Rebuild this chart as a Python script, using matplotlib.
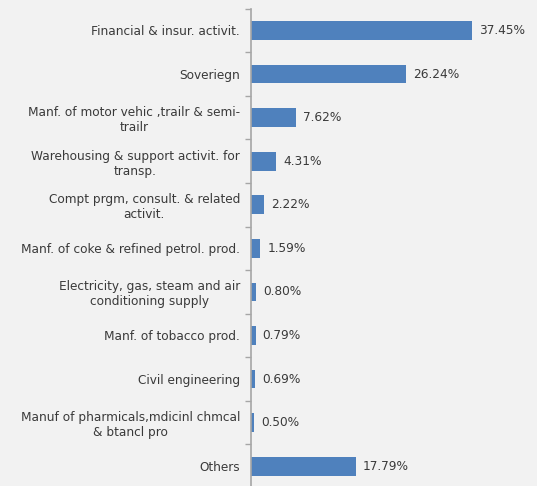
import matplotlib
matplotlib.use("Agg")
import matplotlib.pyplot as plt
import numpy as np

categories = [
    "Financial & insur. activit.",
    "Soveriegn",
    "Manf. of motor vehic ,trailr & semi-\ntrailr",
    "Warehousing & support activit. for\ntransp.",
    "Compt prgm, consult. & related\nactivit.",
    "Manf. of coke & refined petrol. prod.",
    "Electricity, gas, steam and air\nconditioning supply",
    "Manf. of tobacco prod.",
    "Civil engineering",
    "Manuf of pharmicals,mdicinl chmcal\n& btancl pro",
    "Others",
]
shares = [37.45, 26.24, 7.62, 4.31, 2.22, 1.59, 0.80, 0.79, 0.69, 0.50, 17.79]
value_labels = ["37.45%", "26.24%", "7.62%", "4.31%", "2.22%", "1.59%",
                "0.80%", "0.79%", "0.69%", "0.50%", "17.79%"]

bg = "#f2f2f2"
bar_color = "#4f81bd"
text_color = "#3a3a3a"
fs = 8.7

plt.rcParams["font.family"] = ["DejaVu Sans"]

fig = plt.figure(figsize=(5.37, 4.86), dpi=100, facecolor=bg)
ax = fig.add_axes([251 / 537, 1 - 488 / 486, 236 / 537, (488 - 8.7) / 486])
ax.set_facecolor(bg)

y = np.arange(len(categories))
ax.barh(y, shares, height=0.43, color=bar_color, zorder=2)
ax.set_xlim(0, 40)
ax.set_ylim(len(categories) - 0.5, -0.5)

for yi, v, lab in zip(y, shares, value_labels):
    ax.text(v + 1.2, yi, lab, va="center", ha="left", fontsize=fs,
            color=text_color)

ax.set_yticks(y)
ax.set_yticklabels(categories, fontsize=fs, color=text_color)
for t in ax.get_yticklabels():
    t.set_multialignment("center")
ax.tick_params(axis="y", which="major", length=0, pad=8)
ax.set_yticks(np.arange(len(categories)) - 0.5, minor=True)
ax.tick_params(axis="y", which="minor", length=4, width=1, color="#a6a6a6",
               direction="out")
ax.set_xticks([])

for side in ["top", "right", "bottom"]:
    ax.spines[side].set_visible(False)
ax.spines["left"].set_color("#a6a6a6")
ax.spines["left"].set_linewidth(1.2)

fig.savefig("out.png", dpi=100, facecolor=bg)
